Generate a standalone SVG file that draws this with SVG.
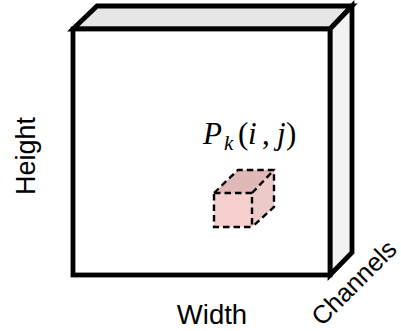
<svg xmlns="http://www.w3.org/2000/svg" width="401" height="331" viewBox="0 0 401 331">
<style>
.s{stroke:#000;stroke-width:4.800;stroke-linejoin:miter;stroke-linecap:square}
.d{stroke:#000;stroke-width:2.400;stroke-dasharray:6.500 4;fill:none}
.t{font-family:"Liberation Sans",Arial,sans-serif;font-size:27px;fill:#000}
.m{font-family:"Liberation Serif","Times New Roman",serif;fill:#000;font-size:31px}
.i{font-style:italic}
</style>
<rect width="401" height="331" fill="#fff"/>
<g id="block">
<path d="M73 29L97 6H352L330 29Z" fill="#e6e6e6" class="s"/>
<path d="M330 29L352 6V252.500L330 275Z" fill="#f2f2f2" class="s"/>
<rect x="73" y="29" width="257" height="246" fill="#fff" class="s"/>
</g>
<g id="cube">
<path d="M214 193L238 170H274L252 193Z" fill="#e0b8b8"/>
<path d="M252 193L274 170V207L252 227Z" fill="#eccaca"/>
<rect x="214" y="193" width="38" height="34" fill="#f6cfcf"/>
<path d="M214 193L238 170H274V207L252 227M252 193L274 170" class="d"/>
<rect x="214" y="193" width="38" height="34" class="d"/>
</g>
<g id="labels">
<text class="m" y="144"><tspan class="i" x="203">P</tspan><tspan class="i" x="224" y="150" font-size="21">k</tspan><tspan x="238" y="144">(</tspan><tspan class="i" x="248">i</tspan><tspan x="262">,</tspan><tspan class="i" x="277">j</tspan><tspan x="286">)</tspan></text>
<text class="t" x="212" y="324" text-anchor="middle" style="font-size:27.500px">Width</text>
<text class="t" transform="translate(35 156) rotate(-90)" text-anchor="middle">Height</text>
<text class="t" transform="translate(322 327) rotate(-45)" style="font-size:25.500px">Channels</text>
</g>
</svg>
